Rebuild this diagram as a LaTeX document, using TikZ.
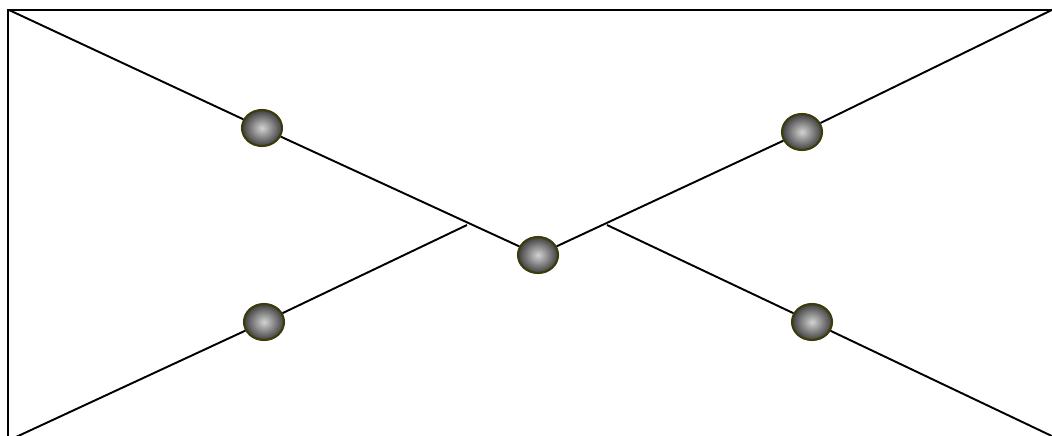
\documentclass[tikz,border=0pt]{standalone}
\usetikzlibrary{shapes.geometric}
\definecolor{ballrim}{RGB}{60,60,10}
\begin{document}
\begin{tikzpicture}[x=0.02cm,y=-0.02cm,line width=1.1pt,
  ball/.style={ellipse,draw=ballrim,line width=1.2pt,minimum width=40*0.02cm,minimum height=36*0.02cm,
    inner sep=0pt,inner color=gray!35,outer color=black!75}]
  \useasboundingbox (0,0) rectangle (1052,436);
  \draw (1052,10) -- (8,10) -- (8,436);
  \coordinate (tl) at (9,10); \coordinate (tr) at (1060,6);
  \coordinate (bl) at (16,437); \coordinate (br) at (1056,438);
  \coordinate (xl) at (467,225); \coordinate (xr) at (607,225);
  \node[ball] (ul) at (262,128) {};
  \node[ball] (ur) at (802,132) {};
  \node[ball] (mid) at (538,255) {};
  \node[ball] (ll) at (264,322) {};
  \node[ball] (lr) at (812,322) {};
  \draw (tl) -- (ul) -- (mid) -- (ur) -- (tr);
  \draw (bl) -- (ll) -- (xl);
  \draw (xr) -- (lr) -- (br);
\end{tikzpicture}
\end{document}
